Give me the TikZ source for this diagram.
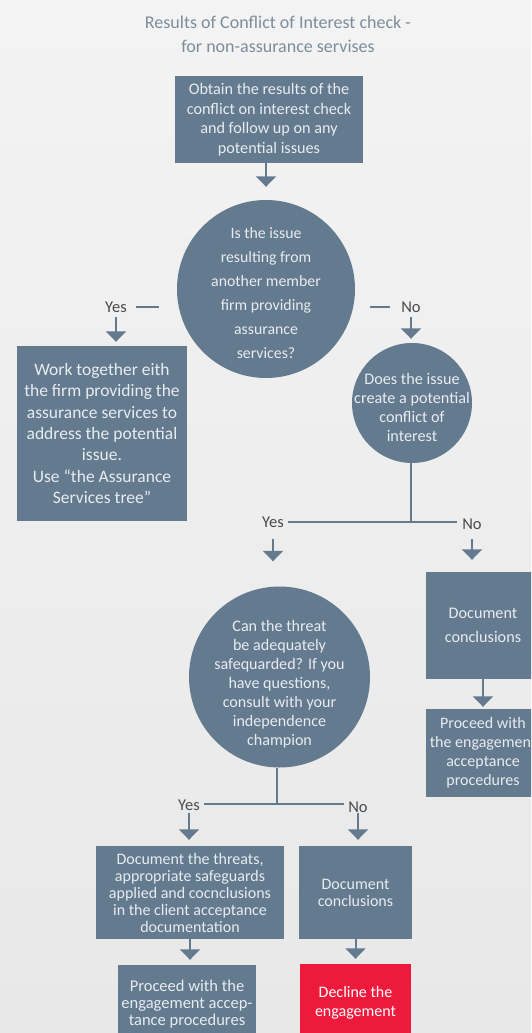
\documentclass[tikz,border=0pt]{standalone}
\usepackage{fontspec}
\setmainfont{Carlito}
\usetikzlibrary{arrows.meta,calc}
\definecolor{boxc}{HTML}{637A8F}
\definecolor{boxtxt}{HTML}{E8ECF0}
\definecolor{titlec}{HTML}{7D8D9C}
\definecolor{labc}{HTML}{4A4A4A}
\definecolor{redc}{HTML}{EE1A3B}
\definecolor{bgA}{HTML}{F3F3F3}
\definecolor{bgB}{HTML}{E8E8E8}
\begin{document}
\begin{tikzpicture}[x=1pt,y=-1pt,
  box/.style={rectangle, fill=boxc, text=boxtxt, align=center, inner sep=0pt},
  circ/.style={circle, fill=boxc, inner sep=0pt},
  ctext/.style={text=boxtxt, align=center, inner sep=0pt},
  lab/.style={text=labc, inner sep=0pt, font=\fontsize{16.5}{19}\selectfont},
  ln/.style={draw=boxc, line width=2pt},
  arr/.style={draw=boxc, line width=2pt, -{Triangle[width=20pt,length=10.5pt]}},
  f16/.style={font=\fontsize{16.2}{19.5}\selectfont},
  f16w/.style={font=\fontsize{16.2}{24}\selectfont},
  f16s/.style={font=\fontsize{16}{17}\selectfont},
  f17/.style={font=\fontsize{17.5}{21.3}\selectfont}
]
\useasboundingbox (0,0) rectangle (531,1033);
\clip (0,0) rectangle (531,1033);
\shade[top color=bgA, bottom color=bgB] (0,0) rectangle (531,1033);

% title
\node[text=titlec, align=center, font=\fontsize{18}{24}\selectfont] (title) at (278,34)
  {Results of Conflict of Interest check -\\for non-assurance servises};

% first box
\node[box, f16, minimum width=188pt, minimum height=87pt] (b1) at (269,119.5)
  {Obtain the results of the\\conflict on interest check\\and follow up on any\\potential issues};

% circle 1
\node[circ, minimum size=178pt] (c1) at (266,289) {};
\node[ctext, font=\fontsize{15.8}{24}\selectfont] (c1t) at (266,293)
  {Is the issue\\resulting from\\another member\\firm providing\\assurance\\services?};

% labels of circle 1
\node[lab] (yes1) at (116,307) {Yes};
\node[lab] (no1) at (411,307) {No};

% work box
\node[box, f17, minimum width=170pt, minimum height=175pt] (work) at (102,433.5)
  {Work together eith\\the firm providing the\\assurance services to\\address the potential\\issue.\\Use “the Assurance\\Services tree”};

% circle 2
\node[circ, minimum size=120pt] (c2) at (412,403) {};
\node[ctext, font=\fontsize{16.2}{19}\selectfont] (c2t) at (412,407.5)
  {Does the issue\\create a potential\\conflict of\\interest};

\coordinate (s1) at (411,522);
\node[lab] (yes2) at (273,522) {Yes};
\node[lab] (no2) at (472,524) {No};

% right column
\node[box, f16w, minimum width=114pt, minimum height=107pt] (dc1) at (483,625.5)
  {Document\\conclusions};
\node[box, font=\fontsize{16}{19}\selectfont, minimum width=114pt, minimum height=88pt] (pr1) at (483,753)
  {Proceed with\\the engagement\\acceptance\\procedures};

% circle 3
\node[circ, minimum size=181pt] (c3) at (279.5,677) {};
\node[ctext, font=\fontsize{16.1}{19}\selectfont] (c3t) at (279.5,684)
  {Can the threat\\be adequately\\safequarded? If you\\have questions,\\consult with your\\independence\\champion};

\coordinate (s2) at (277,804);
\node[lab] (yes3) at (189,805) {Yes};
\node[lab] (no3) at (358,807) {No};

% bottom boxes
\node[box, f16s, minimum width=188pt, minimum height=93pt] (dt) at (190,892.5)
  {Document the threats,\\appropriate safeguards\\applied and cocnclusions\\in the client acceptance\\documentation};
\node[box, f16s, minimum width=113pt, minimum height=93pt] (dc2) at (355.5,892.5)
  {Document\\conclusions};
\node[box, font=\fontsize{16.5}{17}\selectfont, minimum width=138pt, minimum height=78pt] (pr2) at (187,1004)
  {Proceed with the\\engagement accep-\\tance procedures};
\node[box, fill=redc, text=white, font=\fontsize{16}{19}\selectfont, minimum width=111pt, minimum height=78pt] (dec) at (355.5,1003)
  {Decline the\\engagement};

% connectors
\draw[arr, shorten >=13pt] (c1.north |- b1.south) -- (c1.north);
\draw[ln] ([xshift=9pt]yes1.east) -- ++(23,0);
\draw[ln] ([xshift=-11pt]no1.west) -- ++(-20,0);
\draw[arr, shorten <=10pt, shorten >=4pt] (yes1.center) -- (yes1.center |- work.north);
\draw[arr, shorten <=10pt, shorten >=4pt] (no1.center) -- (no1.center |- c2.north);

\draw[ln] (c2.south -| s1) -- (s1);
\draw[ln] ([xshift=4pt]yes2.east |- s1) -- ([xshift=-5pt]no2.west |- s1);
\draw[arr, shorten <=17pt, shorten >=25pt] (yes2.center) -- (yes2.center |- c3.north);
\draw[arr, shorten <=15pt, shorten >=12pt] (no2.center) -- (no2.center |- dc1.north);
\draw[arr, shorten >=2pt] (dc1.south) -- (pr1.north);

\draw[ln] (c3.south -| s2) -- (s2);
\draw[ln] ([xshift=4pt]yes3.east |- s2) -- ([xshift=-4pt]no3.west |- s2);
\draw[arr, shorten <=8pt, shorten >=6pt] (yes3.center) -- (yes3.center |- dt.north);
\draw[arr, shorten <=6pt, shorten >=6pt] (no3.center) -- (no3.center |- dc2.north);
\draw[arr, shorten >=5pt] (dt.south) -- (dt.south |- pr2.north);
\draw[arr, shorten >=5pt] (dc2.south) -- (dc2.south |- dec.north);
\end{tikzpicture}
\end{document}
